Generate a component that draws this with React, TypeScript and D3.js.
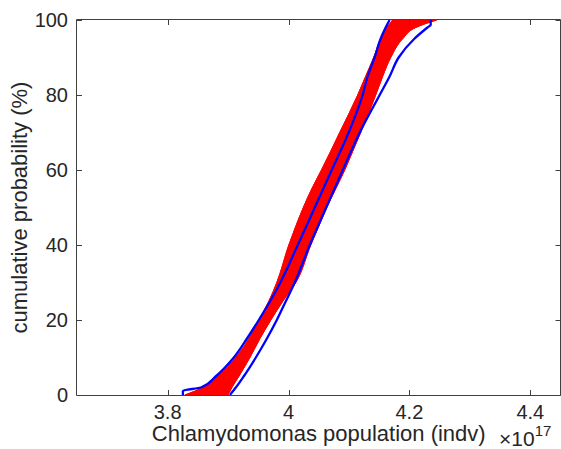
import React from "react";
import * as d3 from "d3";

// ---- data (x in units of 1e17 individuals, p in %) ----
const xTicks = [3.8, 4.0, 4.2, 4.4];
const xTickLabels = ["3.8", "4", "4.2", "4.4"];
const yTicks = [0, 20, 40, 60, 80, 100];

// red band of simulated empirical CDFs: left / right edge at probability levels
const redP = [0, 2, 5, 10, 15, 20, 25, 30, 40, 45, 50, 55, 60, 65, 70, 80, 85, 90, 95, 98, 99, 100];
const redLeftX = [3.8285, 3.8583, 3.8831, 3.9128, 3.9343, 3.9508, 3.9674, 3.9806, 4.0005, 4.012, 4.0245, 4.0385, 4.0545, 4.0698, 4.0847, 4.1145, 4.1277, 4.1409, 4.1524, 4.1624, 4.1674, 4.1723];
const redRightX = [3.8996, 3.9062, 3.9178, 3.936, 3.9525, 3.9707, 3.9905, 4.012, 4.0368, 4.05, 4.0632, 4.0781, 4.093, 4.1062, 4.1194, 4.1442, 4.1558, 4.169, 4.1888, 4.2103, 4.226, 4.245];

// blue envelope curves
const blueLeftP = [0, 1.1, 2, 5, 10, 15, 20, 25, 30, 40, 50, 60, 70, 80, 85, 90, 95, 98, 100];
const blueLeftX = [3.8252, 3.8252, 3.855, 3.8798, 3.9095, 3.931, 3.9508, 3.9695, 3.9865, 4.0153, 4.0434, 4.0714, 4.0995, 4.1226, 4.1309, 4.1424, 4.1524, 4.1607, 4.1673];
const blueRightP = [0, 2, 5, 10, 15, 20, 25, 30, 40, 50, 60, 70, 80, 85, 90, 95, 98, 98.7, 100];
const blueRightX = [3.9029, 3.9128, 3.926, 3.9459, 3.964, 3.9806, 3.9955, 4.0103, 4.0351, 4.0624, 4.0897, 4.1178, 4.1508, 4.1674, 4.1822, 4.2082, 4.2298, 4.2352, 4.2352];

const W = 561;
const H = 449;
const L = 77;
const R = 560.5;
const T = 20;
const B = 395;
const FONT = "'Liberation Sans', Arial, Helvetica, sans-serif";
const TXT = "#262626";
const AX = "#404040";

export default function App() {
  const x = d3.scaleLinear().domain([3.65, 4.45]).range([L, R]);
  const y = d3.scaleLinear().domain([0, 100]).range([B, T]);

  const bandData = redP.map((p, i) => ({ p, lo: redLeftX[i], hi: redRightX[i] }));
  const area = d3
    .area<{ p: number; lo: number; hi: number }>()
    .y((d) => y(d.p))
    .x0((d) => x(d.lo))
    .x1((d) => x(d.hi))
    .curve(d3.curveMonotoneY);

  const line = d3
    .line<[number, number]>()
    .x((d) => x(d[0]))
    .y((d) => y(d[1]))
    .curve(d3.curveMonotoneY);

  const leftPts = blueLeftX.map((v, i) => [v, blueLeftP[i]] as [number, number]);
  const rightPts = blueRightX.map((v, i) => [v, blueRightP[i]] as [number, number]);
  const redLeftPts = redLeftX.map((v, i) => [v, redP[i]] as [number, number]);
  const redRightPts = redRightX.map((v, i) => [v, redP[i]] as [number, number]);

  const tickLen = 5;

  return (
    <svg
      width={W}
      height={H}
      style={{ position: "absolute", left: 0, top: 0, background: "#fff" }}
      fontFamily={FONT}
    >
      <rect x={0} y={0} width={W} height={H} fill="#fff" />
      {/* red band */}
      <path d={area(bandData) || ""} fill="#ff0000" stroke="#ff0000" strokeWidth={1} />
      <path d={line(redLeftPts) || ""} fill="none" stroke="#ff0000" strokeWidth={1} />
      <path d={line(redRightPts) || ""} fill="none" stroke="#ff0000" strokeWidth={1} />
      {/* blue envelopes */}
      <path d={line(leftPts) || ""} fill="none" stroke="#0000ff" strokeWidth={2.3} />
      <path d={line(rightPts) || ""} fill="none" stroke="#0000ff" strokeWidth={2.3} />

      {/* box */}
      <g stroke={AX} strokeWidth={1} fill="none">
        <line x1={L - 0.5} x2={R} y1={B + 0.5} y2={B + 0.5} />
        <line x1={L - 0.5} x2={R} y1={T - 0.5} y2={T - 0.5} />
        <line x1={L - 0.5} x2={L - 0.5} y1={T - 0.5} y2={B + 0.5} />
        <line x1={R} x2={R} y1={T - 0.5} y2={B + 0.5} />
        {xTicks.map((t) => (
          <g key={"xt" + t}>
            <line x1={Math.round(x(t)) + 0.5} x2={Math.round(x(t)) + 0.5} y1={B} y2={B - tickLen} />
            <line x1={Math.round(x(t)) + 0.5} x2={Math.round(x(t)) + 0.5} y1={T} y2={T + tickLen} />
          </g>
        ))}
        {yTicks.map((t) => (
          <g key={"yt" + t}>
            <line x1={L} x2={L + tickLen} y1={Math.round(y(t)) + 0.5} y2={Math.round(y(t)) + 0.5} />
            <line x1={R} x2={R - tickLen} y1={Math.round(y(t)) + 0.5} y2={Math.round(y(t)) + 0.5} />
          </g>
        ))}
      </g>

      {/* tick labels */}
      <g fill={TXT} fontSize={20}>
        {xTicks.map((t, i) => (
          <text key={"xl" + t} x={x(t)} y={419} textAnchor="middle">
            {xTickLabels[i]}
          </text>
        ))}
        {yTicks.map((t) => (
          <text key={"yl" + t} x={68} y={y(t) + 7} textAnchor="end">
            {t}
          </text>
        ))}
      </g>

      {/* axis labels */}
      <text x={(L + R) / 2} y={441} textAnchor="middle" fontSize={22} fill={TXT}>
        Chlamydomonas population (indv)
      </text>
      <text
        transform={`translate(27,${(T + B) / 2}) rotate(-90)`}
        textAnchor="middle"
        fontSize={22}
        fill={TXT}
      >
        cumulative probability (%)
      </text>
      <text x={499} y={446} fontSize={21} fill={TXT}>
        {"\u00d710"}
        <tspan fontSize={15} dy={-10}>
          17
        </tspan>
      </text>
    </svg>
  );
}
